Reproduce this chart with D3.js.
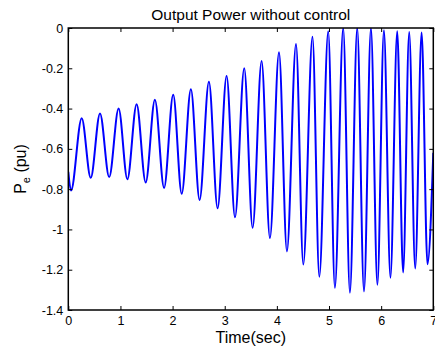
<!DOCTYPE html>
<html>
<head>
<meta charset="utf-8">
<script src="https://cdn.jsdelivr.net/npm/d3@7"></script>
<style>
  body { margin: 0; background: #fff; }
  svg { display: block; font-family: "Liberation Sans", Arial, sans-serif; }
</style>
</head>
<body>
<div id="chart"></div>
<script>
// peaks and troughs of the Pe trace (time in sec, Pe in pu)
var timeSec = [0.000, 0.052, 0.257, 0.430, 0.608, 0.784, 0.965, 1.133, 1.310, 1.484,
  1.661, 1.837, 2.012, 2.175, 2.351, 2.518, 2.697, 2.863, 3.036, 3.197,
  3.374, 3.535, 3.707, 3.867, 4.041, 4.193, 4.367, 4.507, 4.683, 4.814,
  4.985, 5.113, 5.272, 5.401, 5.541, 5.671, 5.804, 5.928, 6.053, 6.178,
  6.308, 6.421, 6.538, 6.653, 6.776, 6.888, 7.000]
var pePu = [-0.714, -0.807, -0.448, -0.744, -0.424, -0.740, -0.400, -0.751, -0.378, -0.767,
  -0.356, -0.794, -0.332, -0.823, -0.304, -0.854, -0.267, -0.895, -0.238, -0.940,
  -0.200, -0.992, -0.164, -1.043, -0.121, -1.109, -0.079, -1.174, -0.044, -1.235,
  -0.016, -1.290, 0.000, -1.314, 0.000, -1.308, 0.000, -1.275, -0.011, -1.240,
  -0.016, -1.214, -0.020, -1.194, -0.022, -1.173, -0.620]

var xTicks = [0, 1, 2, 3, 4, 5, 6, 7]
var xTickLabels = ["0", "1", "2", "3", "4", "5", "6", "7"]
var yTicks = [-1.4, -1.2, -1, -0.8, -0.6, -0.4, -0.2, 0]
var yTickLabels = ["-1.4", "-1.2", "-1", "-0.8", "-0.6", "-0.4", "-0.2", "0"]

var width = 435, height = 348
var margin = { top: 28, right: 1.7, bottom: 38, left: 68.3 }
var w = width - margin.left - margin.right
var h = height - margin.top - margin.bottom
var tickLen = 4

var svg = d3.select('#chart').append('svg')
  .attr('width', width)
  .attr('height', height)

var x = d3.scaleLinear().domain([0, 7]).range([0, w])
var y = d3.scaleLinear().domain([-1.4, 0]).range([h, 0])

var chart = svg.append('g')
  .attr('transform', 'translate(' + margin.left + ',' + margin.top + ')')

chart.append('clipPath').attr('id', 'clip')
  .append('rect').attr('width', w).attr('height', h)

// the trace
var points = timeSec.map(function(t, i) { return [t, pePu[i]] })
var line = d3.line()
  .x(function(d) { return x(d[0]) })
  .y(function(d) { return y(d[1]) })
  .curve(d3.curveMonotoneX)

chart.append('path')
  .datum(points)
  .attr('clip-path', 'url(#clip)')
  .attr('fill', 'none')
  .attr('stroke', '#0000ff')
  .attr('stroke-width', 2)
  .attr('d', line)

// axes, matlab style: ticks inside on all four sides
function styleAxis(g) {
  g.select('.domain').remove()
  g.selectAll('line').attr('stroke', '#000').attr('stroke-width', 1)
  g.selectAll('text').attr('fill', '#000').attr('font-size', '12.5px')
}

chart.append('g')
  .attr('transform', 'translate(0,' + h + ')')
  .call(d3.axisBottom(x).tickValues(xTicks).tickSizeInner(-tickLen).tickSizeOuter(0)
    .tickPadding(6).tickFormat(function(d, i) { return xTickLabels[i] }))
  .call(styleAxis)

chart.append('g')
  .call(d3.axisTop(x).tickValues(xTicks).tickSizeInner(-tickLen).tickSizeOuter(0)
    .tickFormat(''))
  .call(styleAxis)

chart.append('g')
  .call(d3.axisLeft(y).tickValues(yTicks).tickSizeInner(-tickLen).tickSizeOuter(0)
    .tickPadding(5).tickFormat(function(d, i) { return yTickLabels[i] }))
  .call(styleAxis)

chart.append('g')
  .attr('transform', 'translate(' + w + ',0)')
  .call(d3.axisRight(y).tickValues(yTicks).tickSizeInner(-tickLen).tickSizeOuter(0)
    .tickFormat(''))
  .call(styleAxis)

// box
chart.append('rect')
  .attr('width', w)
  .attr('height', h)
  .attr('fill', 'none')
  .attr('stroke', '#000')
  .attr('stroke-width', 1.5)

// title and labels
svg.append('text')
  .attr('x', margin.left + w / 2)
  .attr('y', 20)
  .attr('text-anchor', 'middle')
  .attr('font-size', '15.5px')
  .text('Output Power without control')

svg.append('text')
  .attr('x', margin.left + w / 2)
  .attr('y', 343)
  .attr('text-anchor', 'middle')
  .attr('font-size', '16px')
  .text('Time(sec)')

var ylab = svg.append('text')
  .attr('transform', 'translate(26,' + (margin.top + h / 2) + ') rotate(-90)')
  .attr('text-anchor', 'middle')
  .attr('font-size', '16px')
ylab.append('tspan').text('P')
ylab.append('tspan').attr('font-size', '11px').attr('dy', 4).text('e')
ylab.append('tspan').attr('dy', -4).text(' (pu)')
</script>
</body>
</html>
